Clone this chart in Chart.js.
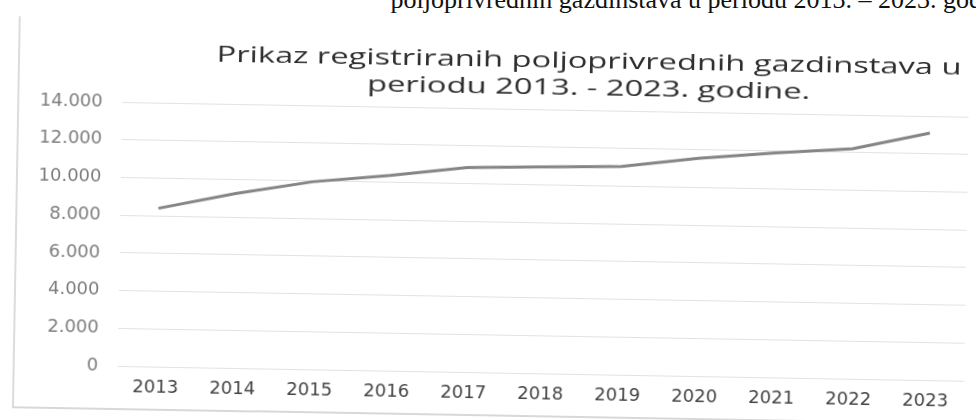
<!DOCTYPE html>
<html>
<head>
<meta charset="utf-8">
<script src="https://cdn.jsdelivr.net/npm/chart.js@4.4.1/dist/chart.umd.min.js"></script>
<style>
html,body{margin:0;padding:0;background:#fff;width:976px;height:420px;overflow:hidden;}
#cap{position:absolute;top:-14px;left:0;white-space:nowrap;font-family:"Liberation Serif";font-size:26px;line-height:28px;color:#111;}
#wrap{position:absolute;left:0;top:0;width:976px;height:420px;transform:rotate(1deg);transform-origin:120px 290px;}
#frame{position:absolute;left:14px;top:18px;width:1000px;height:390px;border-left:2px solid #dcdcdc;border-bottom:2px solid #d8d8d8;}
canvas{position:absolute;left:0;top:0;}
</style>
</head>
<body>
<div id="cap"></div>
<div id="wrap"><div id="frame"></div><canvas id="c" width="976" height="420"></canvas></div>
<script>
// ---- data ----
const years = ['2013','2014','2015','2016','2017','2018','2019','2020','2021','2022','2023'];
const holdings = [8400, 9250, 9950, 10350, 10850, 10950, 11050, 11550, 11900, 12200, 13100];
const yTickLabels = ['0','2.000','4.000','6.000','8.000','10.000','12.000','14.000'];
const titleLines = ['Prikaz registriranih poljoprivrednih gazdinstava u', 'periodu 2013. - 2023. godine.'];
const captionText = 'poljoprivrednih gazdinstava u periodu 2013. \u2013 2023. godine.';

// caption (partly cut off at top of page)
(function(){
  const cap = document.getElementById('cap');
  cap.textContent = captionText;
  const m = document.createElement('canvas').getContext('2d');
  m.font = '26px "Liberation Serif"';
  const prefix = captionText.slice(0, captionText.indexOf('2023.'));
  cap.style.left = (878 - m.measureText(prefix).width) + 'px';
})();

const titlePlugin = {
  id: 'titleLines',
  afterDraw(chart) {
    const ctx = chart.ctx;
    ctx.save();
    ctx.font = '22px "Open Sans"';
    const w = ctx.measureText(titleLines[0]).width;
    const sx = 745 / w;
    ctx.fillStyle = '#2e2e2e';
    ctx.textAlign = 'center';
    ctx.textBaseline = 'alphabetic';
    ctx.translate(585, 0);
    ctx.scale(sx, 1);
    ctx.fillText(titleLines[0], 0, 60);
    ctx.fillText(titleLines[1], 0, 87);
    ctx.restore();
  }
};

new Chart(document.getElementById('c'), {
  type: 'line',
  data: {
    labels: years,
    datasets: [{
      data: holdings,
      borderColor: '#858585',
      borderWidth: 3,
      pointRadius: 0,
      tension: 0,
      fill: false
    }]
  },
  options: {
    responsive: false,
    animation: false,
    layout: { padding: { top: 102, bottom: 23, left: 0, right: 10.5 } },
    plugins: { legend: { display: false }, tooltip: { enabled: false }, title: { display: false } },
    scales: {
      x: {
        offset: true,
        afterFit(scale) { scale.height = 31; },
        grid: { display: false, drawTicks: false },
        border: { display: false },
        ticks: {
          color: '#444444',
          font: { family: 'DejaVu Sans', size: 18 },
          padding: 11,
          maxRotation: 0,
          autoSkip: false
        }
      },
      y: {
        min: 0,
        max: 14000,
        afterFit(scale) { scale.width = 118.5; },
        grid: { color: '#e2e2e2', lineWidth: 1, drawTicks: false },
        border: { display: false },
        ticks: {
          stepSize: 2000,
          color: '#7d7d7d',
          font: { family: 'DejaVu Sans', size: 18 },
          padding: 19,
          callback: (v, i) => yTickLabels[i]
        }
      }
    }
  },
  plugins: [titlePlugin]
});
</script>
</body>
</html>
